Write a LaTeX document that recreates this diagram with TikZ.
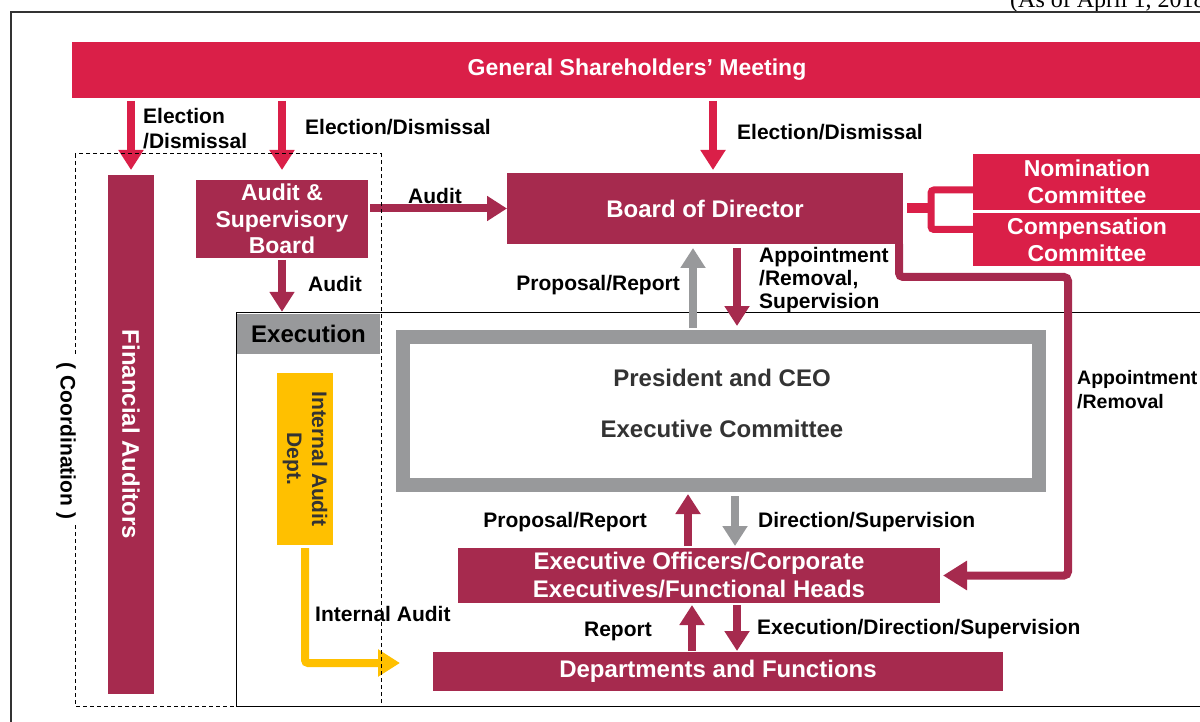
\documentclass[tikz,border=0pt]{standalone}
\usepackage{fontspec}
\setmainfont{Liberation Sans}
\newfontfamily\datefont{Liberation Serif}
\usetikzlibrary{arrows.meta}
\definecolor{crimson}{RGB}{218,31,72}
\definecolor{maroon}{RGB}{166,42,78}
\definecolor{midgray}{RGB}{152,153,155}
\definecolor{gold}{RGB}{255,192,0}
\definecolor{darktext}{RGB}{51,51,51}

\begin{document}
\begin{tikzpicture}[x=1pt,y=-1pt,
	box/.style={fill=maroon,text=white,font=\fontsize{24}{28}\selectfont\bfseries,align=center,inner sep=0pt,outer sep=0pt},
	redbox/.style={box,fill=crimson,font=\fontsize{23}{27}\selectfont\bfseries},
	lbl/.style={font=\fontsize{21}{24}\selectfont\bfseries,align=left,inner sep=0pt,anchor=west},
	arr/.style={line width=8pt,-{Triangle[width=24pt,length=20pt]}}]
\useasboundingbox (0,0) rectangle (1200,722);

\node[font=\datefont\fontsize{24}{28}\selectfont,anchor=base west,inner sep=0pt] (asof) at (1010,8) {(As of April 1, 2018)};
\draw[line width=1.2pt,black!80] (11,12) rectangle (1210,730);
\draw[line width=1pt] (236,312) rectangle (1210,706);

\node[redbox,minimum width=1130pt,minimum height=56pt] (gsm) at (637,70) {General Shareholders' Meeting};
\node[redbox,minimum width=228pt,minimum height=56pt] (nomc) at (1087,182) {Nomination\\Committee};
\node[redbox,minimum width=228pt,minimum height=53pt] (compc) at (1087,239.5) {Compensation\\Committee};
\node[box,minimum width=396pt,minimum height=71pt] (bod) at (705,208.5) {Board of Director};
\node[box,minimum width=172pt,minimum height=78pt,font=\fontsize{23}{26.5}\selectfont\bfseries] (asb) at (282,219) {Audit \&\\Supervisory\\Board};

\node[box,minimum width=46pt,minimum height=519pt] (finbox) at (131,434.5) {};
\node[rotate=-90,text=white,font=\fontsize{24}{28}\selectfont\bfseries] (fintext) at (finbox) {Financial Auditors};

\node[fill=midgray,minimum width=143pt,minimum height=40pt,inner sep=0pt,font=\fontsize{24}{28}\selectfont\bfseries] (exhead) at (308.5,334) {Execution};
\node[fill=gold,minimum width=56pt,minimum height=172pt,inner sep=0pt] (iad) at (305,459) {};
\node[rotate=-90,align=center,text=darktext,font=\fontsize{21}{25}\selectfont\bfseries] (iadtext) at (iad) {Internal Audit\\Dept.};

\node[draw=midgray,line width=14pt,minimum width=636pt,minimum height=148pt,inner sep=0pt,outer sep=0pt] (pres) at (721,411) {};
\node[text=darktext,font=\fontsize{24}{28}\selectfont\bfseries] (ceo) at (722,378) {President and CEO};
\node[text=darktext,font=\fontsize{24}{28}\selectfont\bfseries] (excom) at (722,429) {Executive Committee};

\node[box,minimum width=482pt,minimum height=55pt] (exoff) at (699,575.5) {Executive Officers/Corporate\\Executives/Functional Heads};
\node[box,minimum width=570pt,minimum height=39pt] (dept) at (718,671.5) {Departments and Functions};

\node[lbl,font=\fontsize{21}{25}\selectfont\bfseries] (elec1) at (143,128.5) {Election\\/Dismissal};
\node[lbl] (elec2) at (305,127) {Election/Dismissal};
\node[lbl] (elec3) at (737,132) {Election/Dismissal};
\node[lbl] (audit1) at (408,196) {Audit};
\node[lbl] (audit2) at (308,284) {Audit};
\node[lbl,anchor=east] (prop1) at (680,285) {Proposal/Report};
\node[lbl,font=\fontsize{21}{23}\selectfont\bfseries] (appt1) at (759,280) {Appointment\\/Removal,\\Supervision};
\node[lbl,font=\fontsize{19.5}{24}\selectfont\bfseries] (appt2) at (1077,390) {Appointment\\/Removal};
\node[lbl,anchor=east] (prop2) at (647,522) {Proposal/Report};
\node[lbl] (dirsup) at (758,522) {Direction/Supervision};
\node[lbl,anchor=east] (rep) at (652,631) {Report};
\node[lbl] (exdir) at (757,629) {Execution/Direction/Supervision};
\node[lbl] (intaud) at (315,614) {Internal Audit};

\draw[arr,crimson,shorten <=3pt,shorten >=5pt] (gsm.south -| finbox.north) -- (finbox.north);
\draw[arr,crimson,shorten <=3pt,shorten >=10pt] (gsm.south -| asb.north) -- (asb.north);
\draw[arr,crimson,shorten <=3pt,shorten >=3pt] ([xshift=8pt]bod.north |- gsm.south) -- ([xshift=8pt]bod.north);
\draw[arr,maroon,shorten <=2pt] (asb.east |- bod.west) -- (bod.west);
\draw[arr,maroon,shorten <=2pt,shorten >=2pt] (asb.south) -- (asb.south |- exhead.north);

\draw[arr,midgray,shorten <=9pt,shorten >=4pt] ([xshift=-28pt]pres.north) -- ([xshift=-12pt]bod.south);
\draw[arr,maroon,shorten <=4pt,shorten >=11pt] ([xshift=32pt]bod.south) -- ([xshift=16pt]pres.north);
\draw[arr,maroon,shorten <=2pt,shorten >=9pt] ([xshift=-11pt]exoff.north) -- ([xshift=-33pt]pres.south);
\draw[arr,midgray,shorten <=11pt,shorten >=2pt] ([xshift=14pt]pres.south) -- ([xshift=36pt]exoff.north);
\draw[arr,maroon,shorten <=1pt,shorten >=2pt] ([xshift=-26pt]dept.north) -- ([xshift=-7pt]exoff.south);
\draw[arr,maroon,shorten <=2pt,shorten >=1pt] ([xshift=38pt]exoff.south) -- ([xshift=19pt]dept.north);

\coordinate (cmtbr) at (931,208.5);
\draw[crimson,line width=10pt] ([xshift=4pt]bod.east) -- (cmtbr);
\draw[crimson,line width=7pt,rounded corners=3pt] ([yshift=-8pt]nomc.west) -| (cmtbr) |- ([yshift=10pt]compc.west);

\coordinate (apbend) at (1068,277);
\draw[maroon,line width=8pt,rounded corners=4pt,-{Triangle[width=28pt,length=24pt]},shorten >=3pt] ([xshift=-4pt]bod.south east) |- (apbend) |- (exoff.east);

\coordinate (iaend) at (400,663);
\draw[gold,line width=8pt,rounded corners=3pt,-{Triangle[width=26pt,length=22pt]}] ([yshift=-3pt]iad.south) |- (iaend);

\draw[line width=1pt,dash pattern=on 4pt off 3pt] (75,154) rectangle (381,706);
\node[rotate=-90,fill=white,inner sep=6pt,font=\fontsize{21}{24}\selectfont\bfseries] (coord) at (66,441) {( Coordination )};
\end{tikzpicture}
\end{document}
